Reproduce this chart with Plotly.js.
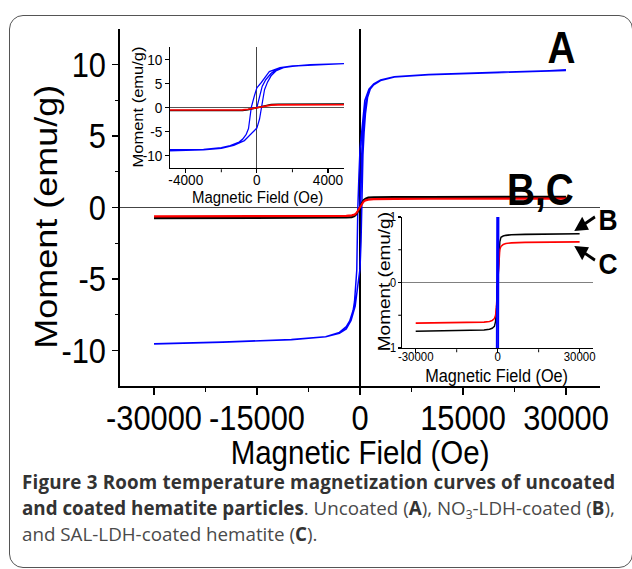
<!DOCTYPE html>
<html>
<head>
<meta charset="utf-8">
<script src="https://cdn.plot.ly/plotly-3.0.1.min.js"></script>
<style>
  html, body { margin: 0; padding: 0; background: #ffffff; }
  body { width: 632px; height: 569px; position: relative; overflow: hidden; }
  #frame { position: absolute; left: 9px; top: 15px; width: 624px; height: 553px;
           box-sizing: border-box; border: 1.5px solid #555; border-radius: 14px; }
  #chart { position: absolute; left: 0; top: 0; width: 718px; height: 569px;
           transform: scaleX(0.8802); transform-origin: 0 0; }
  #cap { position: absolute; left: 22px; top: 469px; white-space: nowrap;
         font-family: "Open Sans", "Noto Sans", sans-serif; font-size: 18.8px; line-height: 26px;
         color: #4a4a4a; }
  #cap b { color: #333; font-weight: 700; }
  #cap .l1 { letter-spacing: 0.17px; }
  #cap sub { font-size: 12px; vertical-align: -4px; line-height: 0; }
</style>
</head>
<body>
<div id="frame"></div>
<div id="chart"></div>
<div id="cap"><b class="l1">Figure 3 Room temperature magnetization curves of uncoated</b><br><b>and coated hematite particles</b>. Uncoated (<b>A</b>), NO<sub>3</sub>-LDH-coated (<b>B</b>),<br>and SAL-LDH-coated hematite (<b>C</b>).</div>
<script>
// Uncoated hematite (A): virgin curve, descending branch, ascending branch (field in Oe, moment in emu/g)
const A_field = [0, 150, 300, 500, 800, 1100, 1500, 2000, 3000, 5000, 10000, 20000, 30000,
  20000, 10000, 5000, 3000, 2000, 1300, 700, 250, 0, -150, -315, -470, -600, -800, -1000, -1500, -2000, -3000, -5000, -10000, -20000, -30000,
  -20000, -10000, -5000, -3000, -2000, -1300, -700, -250, 0, 150, 250, 430, 600, 800, 1100, 1500, 2000, 3000, 5000, 10000, 20000, 30000];
const A_moment = [0, 2.4, 4.4, 5.8, 7.1, 7.9, 8.3, 8.62, 8.9, 9.15, 9.3, 9.47, 9.6,
  9.47, 9.3, 9.15, 8.92, 8.65, 8.28, 7.5, 5.2, 4.1, 2.3, 0, -4.4, -5.6, -6.6, -7.2, -7.95, -8.35, -8.75, -9.05, -9.25, -9.43, -9.55,
  -9.43, -9.25, -9.05, -8.8, -8.5, -7.9, -6.9, -5.2, -4.3, -2.4, 0, 3.7, 5.3, 6.6, 7.7, 8.3, 8.6, 8.9, 9.15, 9.3, 9.47, 9.6];

// NO3-LDH-coated hematite (B)
const B_field = [-30000, -20000, -10000, -5000, -3000, -2000, -1200, -800, -500, -250, 0, 250, 500, 800, 1200, 2000, 3000, 5000, 10000, 20000, 30000];
const B_moment = [-0.745, -0.74, -0.735, -0.725, -0.715, -0.7, -0.67, -0.6, -0.45, -0.25, 0, 0.28, 0.5, 0.62, 0.69, 0.71, 0.72, 0.73, 0.735, 0.74, 0.745];

// SAL-LDH-coated hematite (C)
const C_field = [-30000, -20000, -10000, -5000, -3000, -2000, -1200, -800, -500, -250, 0, 250, 500, 800, 1200, 2000, 3000, 5000, 10000, 20000, 30000];
const C_moment = [-0.62, -0.618, -0.614, -0.605, -0.595, -0.58, -0.55, -0.5, -0.38, -0.2, 0, 0.22, 0.4, 0.5, 0.55, 0.58, 0.595, 0.605, 0.612, 0.617, 0.62];

// tick labels
const mainXTicks = [-30000, -15000, 0, 15000, 30000];
const mainYTicks = [-10, -5, 0, 5, 10];
const inset1XTicks = [-4000, 0, 4000];
const inset1YTicks = [-10, -5, 0, 5, 10];
const inset2XTicks = [-30000, 0, 30000];
const inset2YTicks = [-1, 0, 1];

const FONT = "Arial, 'Liberation Sans', sans-serif";
const SX = 0.8802;            // horizontal squeeze of the whole chart (see CSS)
const colA = '#0000ff', colB = '#000000', colC = '#ff0000';

function tr(x, y, color, w, xa, ya) {
  return { x: x, y: y, type: 'scatter', mode: 'lines', xaxis: xa, yaxis: ya,
           line: { color: color, width: w }, hoverinfo: 'skip', showlegend: false };
}

const data = [
  tr(A_field, A_moment, colA, 1.7, 'x', 'y'),
  tr(B_field, B_moment, colB, 2.2, 'x', 'y'),
  tr(C_field, C_moment, colC, 2.2, 'x', 'y'),
  tr(A_field, A_moment, colA, 1.4, 'x2', 'y2'),
  tr(B_field, B_moment, colB, 1.6, 'x2', 'y2'),
  tr(C_field, C_moment, colC, 1.6, 'x2', 'y2'),
  tr(B_field, B_moment, colB, 1.6, 'x3', 'y3'),
  tr(C_field, C_moment, colC, 1.6, 'x3', 'y3'),
  tr(A_field, A_moment, colA, 1.8, 'x3', 'y3')
];

function axisBase(extra) {
  return Object.assign({
    showgrid: false, showline: true, linecolor: '#000', linewidth: 1.6,
    ticks: 'outside', tickcolor: '#000', tickwidth: 1.3, mirror: false,
    tickmode: 'array', fixedrange: true
  }, extra);
}

// plot-area pixel helpers (final, squeezed picture coordinates)
const PL = 120, PR = 600, PT = 29, PB = 386;
const px = v => (v - PL) / (PR - PL);
const py = v => (PB - v) / (PB - PT);

function label(text, x, y, size, angle, bold) {
  return { xref: 'paper', yref: 'paper', x: px(x), y: py(y), text: bold ? '<b>' + text + '</b>' : text,
           showarrow: false, textangle: angle || 0,
           font: { size: size, family: FONT, color: '#000' }, xanchor: 'center', yanchor: 'middle' };
}

const layout = {
  width: 718, height: 569,
  margin: { l: 136.3, r: 36.4, t: 29, b: 183 },
  paper_bgcolor: 'rgba(0,0,0,0)', plot_bgcolor: 'rgba(0,0,0,0)',
  font: { family: FONT, color: '#000' },
  showlegend: false,
  xaxis: axisBase({
    domain: [0, 1], range: [-35000, 35000], anchor: 'y',
    tickvals: mainXTicks, ticktext: mainXTicks.map(String), ticklen: 7,
    tickfont: { size: 35, family: FONT }, ticklabelstandoff: -7,
    minor: { tickvals: [-22500, -7500, 7500, 22500], ticks: 'outside', ticklen: 4, tickcolor: '#000', tickwidth: 1.3 },
    zeroline: true, zerolinecolor: '#000', zerolinewidth: 1.2
  }),
  yaxis: axisBase({
    domain: [0, 1], range: [-12.5, 12.5], anchor: 'x',
    tickvals: mainYTicks, ticktext: mainYTicks.map(String), ticklen: 7,
    tickfont: { size: 35, family: FONT },
    minor: { tickvals: [-7.5, -2.5, 2.5, 7.5], ticks: 'outside', ticklen: 4, tickcolor: '#000', tickwidth: 1.3 },
    zeroline: true, zerolinecolor: '#444', zerolinewidth: 1.6
  }),
  xaxis2: axisBase({
    domain: [px(170), px(344)], range: [-4900, 4900], anchor: 'y2', linewidth: 1.3,
    tickvals: inset1XTicks, ticktext: inset1XTicks.map(String), ticklen: 4,
    tickfont: { size: 15.5, family: FONT }, ticklabelstandoff: -7,
    minor: { tickvals: [-2000, 2000], ticks: 'outside', ticklen: 3, tickcolor: '#000', tickwidth: 1.1 },
    zeroline: true, zerolinecolor: '#444', zerolinewidth: 1.3
  }),
  yaxis2: axisBase({
    domain: [py(168), py(47)], range: [-12.6, 12.6], anchor: 'x2', linewidth: 1.3,
    tickvals: inset1YTicks, ticktext: inset1YTicks.map(String), ticklen: 4,
    tickfont: { size: 15.5, family: FONT },
    zeroline: true, zerolinecolor: '#555', zerolinewidth: 1.3
  }),
  xaxis3: axisBase({
    domain: [px(402), px(593)], range: [-35000, 35000], anchor: 'y3', linewidth: 1.3,
    tickvals: inset2XTicks, ticktext: inset2XTicks.map(String), ticklen: 4,
    tickfont: { size: 13, family: FONT }, ticklabelstandoff: -8,
    minor: { tickvals: [-15000, 15000], ticks: 'outside', ticklen: 3, tickcolor: '#000', tickwidth: 1.1 },
    zeroline: false
  }),
  yaxis3: axisBase({
    domain: [py(348), py(217)], range: [-1, 1], anchor: 'x3', linewidth: 1.3,
    tickvals: inset2YTicks, ticktext: inset2YTicks.map(String), ticklen: 3,
    tickfont: { size: 12.5, family: FONT },
    minor: { tickvals: [-0.5, 0.5], ticks: 'outside', ticklen: 3, tickcolor: '#000', tickwidth: 1.1 },
    zeroline: true, zerolinecolor: '#808080', zerolinewidth: 1.6
  }),
  annotations: [
    // main axis titles
    label('Magnetic Field (Oe)', 360, 452, 33.5, 0),
    label('Moment (emu/g)', 46, 217, 36, -90),
    // inset axis titles
    label('Magnetic Field (Oe)', 258, 197, 17, 0),
    label('Moment (emu/g)', 138, 107, 16.5, -90),
    label('Magnetic Field (Oe)', 496.5, 375.5, 18.5, 0),
    label('Moment (emu/g)', 384, 282, 19, -90),
    // curve labels
    label('A', 561, 47, 44, 0, true),
    label('B,C', 540, 190, 44, 0, true),
    label('B', 608, 219, 30, 0, true),
    label('C', 608, 263, 30, 0, true),
    { xref: 'paper', yref: 'paper', x: px(574), y: py(231), text: '', showarrow: true,
      ax: 22 / SX, ay: -15, arrowhead: 2, arrowsize: 1, arrowwidth: 3, arrowcolor: '#000' },
    { xref: 'paper', yref: 'paper', x: px(574), y: py(246), text: '', showarrow: true,
      ax: 22 / SX, ay: 15, arrowhead: 2, arrowsize: 1, arrowwidth: 3, arrowcolor: '#000' }
  ]
};

Plotly.newPlot('chart', data, layout, { staticPlot: true, displayModeBar: false });
</script>
</body>
</html>
